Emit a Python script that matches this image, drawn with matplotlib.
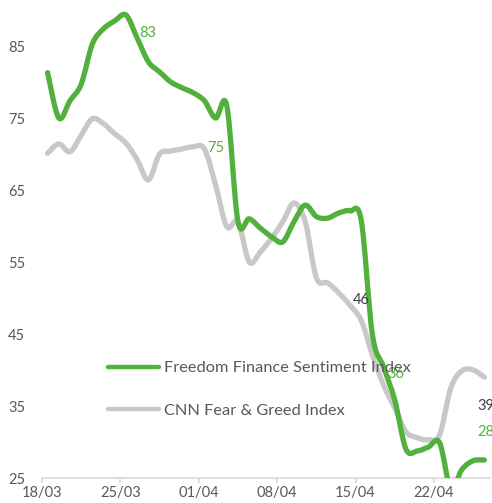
import matplotlib
matplotlib.use("Agg")
import matplotlib.pyplot as plt
from matplotlib.path import Path
from matplotlib.patches import PathPatch
from matplotlib.lines import Line2D
import numpy as np

# ---- data ----
tick_labels = ["18/03", "25/03", "01/04", "08/04", "15/04", "22/04"]
y_ticks = [25, 35, 45, 55, 65, 75, 85]

freedom = [81.3, 75.0, 77.4, 79.7, 85.3, 87.4, 88.5, 89.3, 86.1, 82.8,
           81.4, 80.0, 79.2, 78.5, 77.4, 75.0, 76.7, 60.6, 61.0, 59.7,
           58.5, 57.8, 60.6, 62.9, 61.3, 61.1, 61.8, 62.1, 60.8, 44.9,
           40.4, 35.8, 29.0, 28.75, 29.3, 29.9, 23.5, 26.2, 27.4, 27.5]
cnn = [70.1, 71.4, 70.3, 72.6, 74.9, 74.2, 72.8, 71.5, 69.2, 66.4,
       70.0, 70.4, 70.7, 71.0, 70.7, 65.7, 59.9, 60.6, 55.0, 56.4,
       58.3, 60.6, 63.2, 60.6, 52.8, 52.1, 50.7, 49.0, 46.9, 42.1,
       37.9, 34.7, 31.4, 30.6, 30.3, 31.0, 37.5, 39.9, 40.0, 39.0]

series_names = ["Freedom Finance Sentiment Index", "CNN Fear & Greed Index"]
label_texts = ["83", "75", "46", "36", "39", "28"]

# ---- style ----
GREEN = "#52B03D"
GRAY = "#C8C8C8"
TXT = "#595959"
DARK = "#404040"
LW = 3.8

plt.rcParams['font.family'] = ['Lato', 'DejaVu Sans']

fig = plt.figure(figsize=(4.92, 5.03), dpi=100)
ax = fig.add_axes([42/492, 1 - 478/503, (490-42)/492, (478-10)/503])


def smooth_path(xs, ys):
    """Smoothed line (Bezier through every data point, like a spreadsheet smoothed line)."""
    P = np.column_stack([xs, ys]).astype(float)
    n = len(P)
    verts = [P[0]]
    codes = [Path.MOVETO]
    for i in range(n - 1):
        p0 = P[i - 1] if i > 0 else P[i]
        p1 = P[i]
        p2 = P[i + 1]
        p3 = P[i + 2] if i + 2 < n else P[i + 1]
        c1 = p1 + (p2 - p0) / 6.0
        c2 = p2 - (p3 - p1) / 6.0
        verts += [c1, c2, p2]
        codes += [Path.CURVE4] * 3
    return Path(np.array(verts), codes)


days = np.arange(len(freedom)) + 0.5
for vals, col, z in [(cnn, GRAY, 2), (freedom, GREEN, 3)]:
    patch = PathPatch(smooth_path(days, vals), facecolor='none', edgecolor=col,
                      lw=LW, capstyle='round', joinstyle='round', zorder=z,
                      transform=ax.transData)
    ax.add_patch(patch)

ax.set_xlim(0, 40)
ax.set_ylim(25, 90)
ax.set_xticks(np.arange(len(tick_labels)) * 7)
ax.set_xticklabels(tick_labels)
ax.set_yticks(y_ticks)
ax.set_yticklabels([str(v) for v in y_ticks])

for s in ["top", "right", "left"]:
    ax.spines[s].set_visible(False)
ax.spines["bottom"].set_color("#D9D9D9")
ax.spines["bottom"].set_linewidth(1.2)
ax.tick_params(axis='x', colors="#D9D9D9", length=3.5, width=1.2,
               labelcolor=TXT, labelsize=10.5, pad=2)
ax.tick_params(axis='y', length=0, labelcolor=TXT, labelsize=10.5, pad=12)

# data labels
label_pos = [(8.66, 86.8), (14.73, 70.8), (27.77, 49.7), (30.8, 39.4),
             (38.84, 35.0), (38.84, 31.4)]
label_cols = [GREEN, GREEN, DARK, GREEN, DARK, GREEN]
for t, (x, y), c in zip(label_texts, label_pos, label_cols):
    ax.text(x, y, t, color=c, fontsize=10.5, ha='left', va='center',
            clip_on=False, zorder=5)

handles = [Line2D([], [], color=GREEN, lw=3.2, solid_capstyle='round'),
           Line2D([], [], color=GRAY, lw=3.2, solid_capstyle='round')]
leg = ax.legend(handles, series_names, frameon=False, fontsize=11.8,
                handlelength=3.1, handletextpad=0.3, labelspacing=1.72,
                loc='upper left', bbox_to_anchor=(108/492, 1 - 361/503),
                bbox_transform=fig.transFigure, labelcolor=TXT,
                borderaxespad=0, borderpad=0)

fig.savefig("out.png", dpi=100)
